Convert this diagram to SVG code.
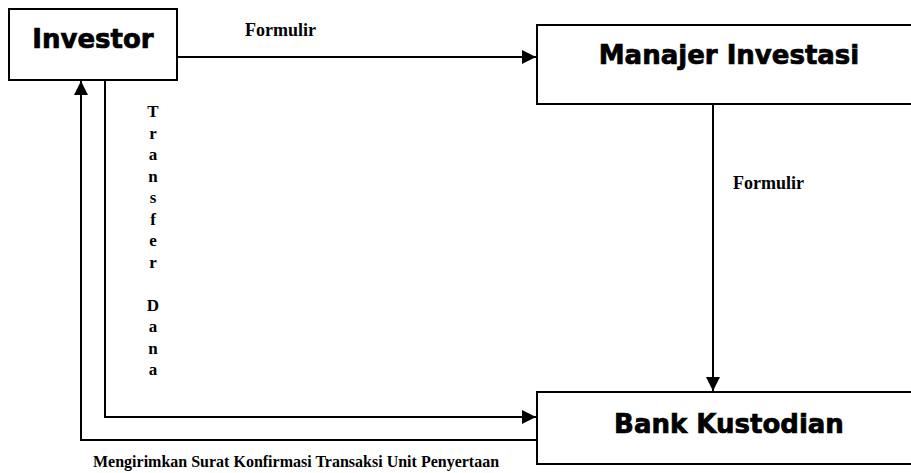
<svg xmlns="http://www.w3.org/2000/svg" width="911" height="473" viewBox="0 0 911 473">
<style>
.box{fill:#fff;stroke:#000;stroke-width:2}
.title{font-family:"DejaVu Sans",sans-serif;font-weight:bold;font-size:26px;fill:#000;stroke:#000;stroke-width:0.7;text-anchor:middle}
.lbl{font-family:"Liberation Serif",serif;font-weight:bold;font-size:16px;fill:#000}
.fm{font-family:"Liberation Serif",serif;font-weight:bold;font-size:18px;fill:#000}
.vl{font-family:"Liberation Serif",serif;font-weight:bold;font-size:17px;fill:#000;text-anchor:middle}
.ln{fill:none;stroke:#000;stroke-width:2}
</style>
<defs>
<marker id="arr" viewBox="0 0 14 14" refX="14" refY="7" markerWidth="14" markerHeight="14" markerUnits="userSpaceOnUse" orient="auto">
<path d="M0,0 L14,7 L0,14 Z" fill="#000"/>
</marker>
</defs>
<rect width="911" height="473" fill="#fff"/>
<g id="investor">
<rect class="box" x="9" y="9" width="168" height="71"/>
<text class="title" x="93" y="48">Investor</text>
</g>
<g id="manajer-investasi">
<rect class="box" x="537" y="25" width="385" height="79"/>
<text class="title" x="729" y="64">Manajer Investasi</text>
</g>
<g id="bank-kustodian">
<rect class="box" x="537" y="392" width="385" height="72"/>
<text class="title" x="729" y="433">Bank Kustodian</text>
</g>
<g id="connectors">
<path class="ln" d="M177,57 L536,57" marker-end="url(#arr)"/>
<path class="ln" d="M713,104 L713,391" marker-end="url(#arr)"/>
<path class="ln" d="M105,80 L105,417 L536,417" marker-end="url(#arr)"/>
<path class="ln" d="M537,440 L81,440 L81,81" marker-end="url(#arr)"/>
</g>
<g id="labels">
<text class="fm" x="245" y="36" textLength="71">Formulir</text>
<text class="fm" x="733" y="189" textLength="71">Formulir</text>
<text class="lbl" x="93" y="467">Mengirimkan Surat Konfirmasi Transaksi Unit Penyertaan</text>
<text class="vl" x="153" y="117">T</text>
<text class="vl" x="153" y="138.5">r</text>
<text class="vl" x="153" y="160">a</text>
<text class="vl" x="153" y="181.5">n</text>
<text class="vl" x="153" y="203">s</text>
<text class="vl" x="153" y="224.5">f</text>
<text class="vl" x="153" y="246">e</text>
<text class="vl" x="153" y="267.5">r</text>
<text class="vl" x="153" y="310.5">D</text>
<text class="vl" x="153" y="332">a</text>
<text class="vl" x="153" y="353.5">n</text>
<text class="vl" x="153" y="375">a</text>
</g>
</svg>
